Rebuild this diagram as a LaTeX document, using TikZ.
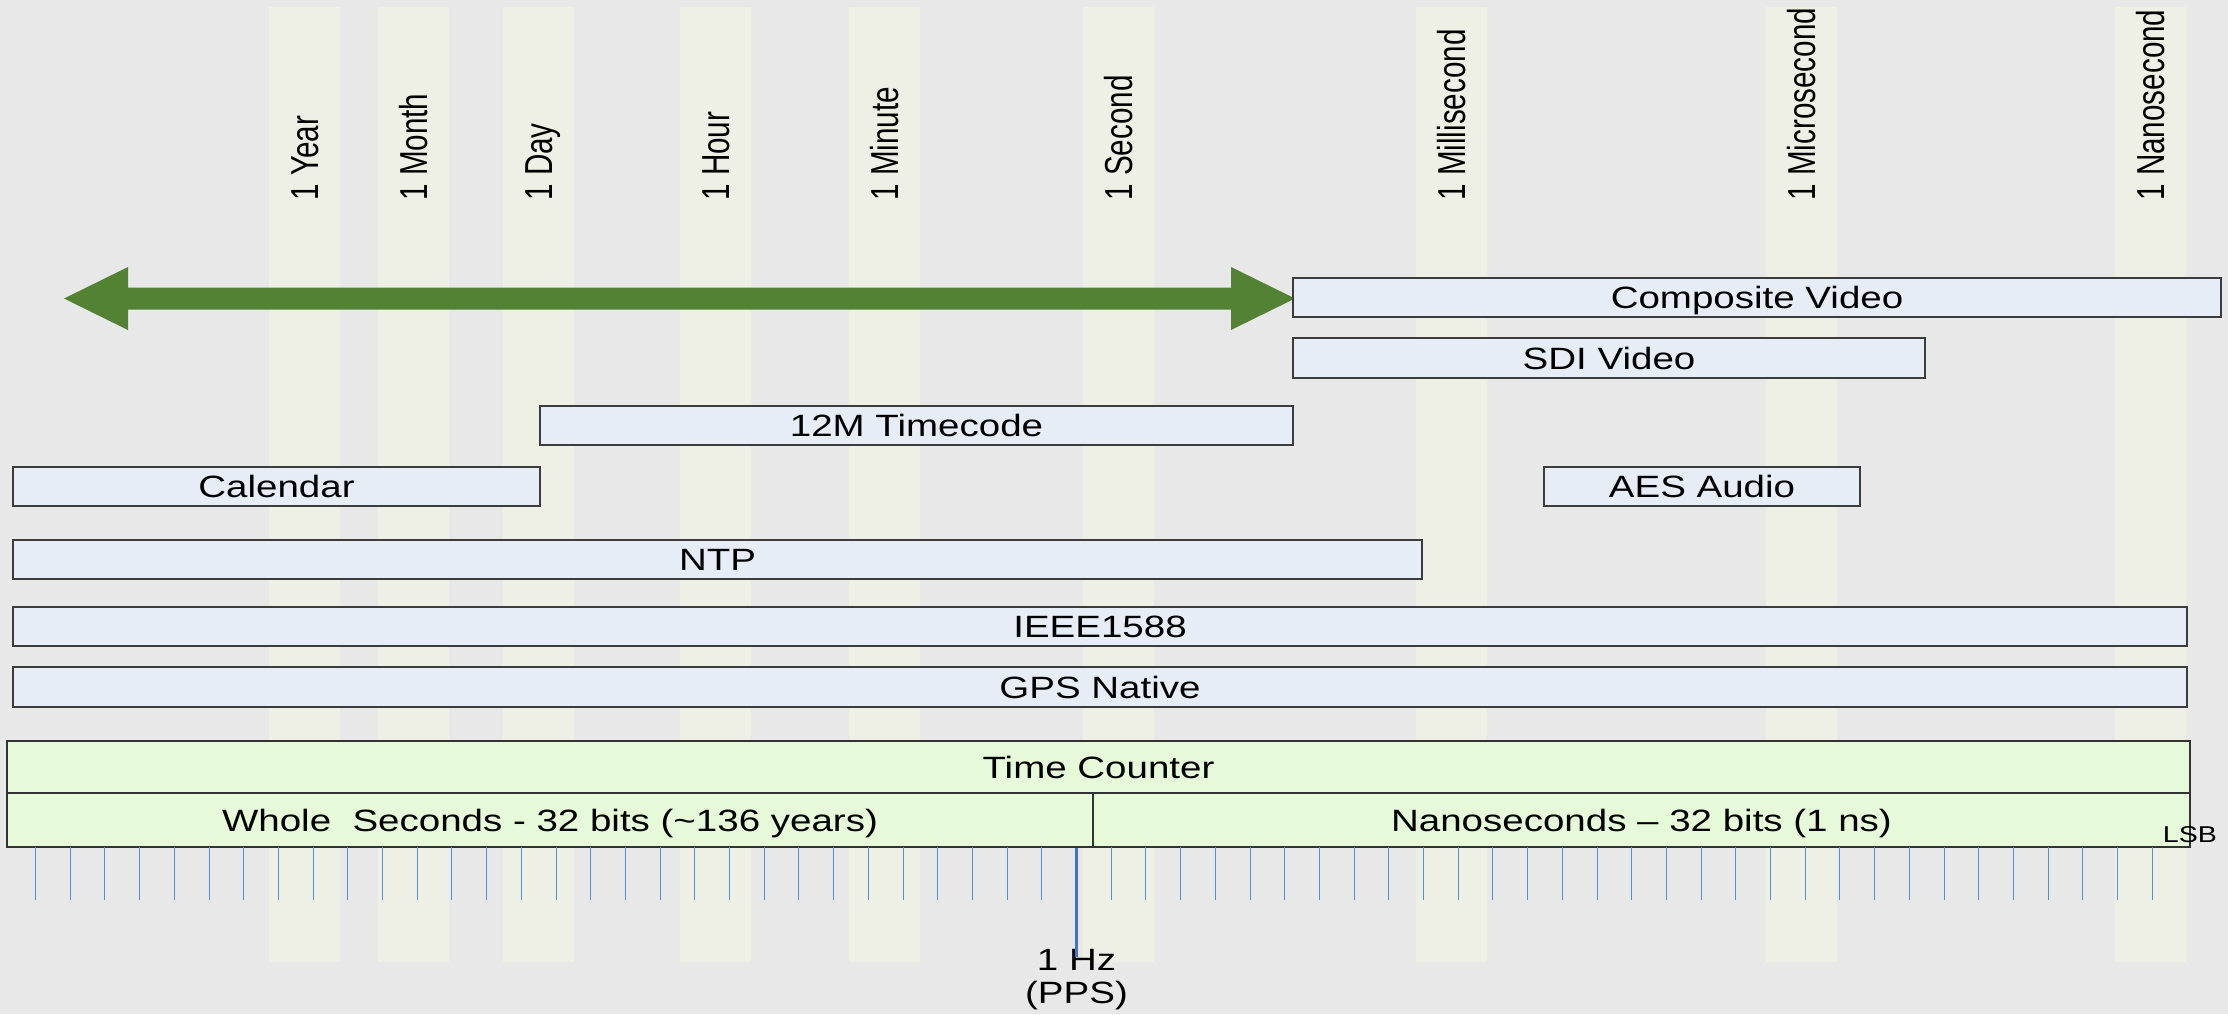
\documentclass[tikz,border=0pt]{standalone}
\usepackage{fontspec}
\setmainfont{Liberation Sans}
\usetikzlibrary{calc}

% text is set slightly compressed vertically
\newcommand{\sqz}[1]{\scalebox{1}[0.8]{#1}}
% rotated labels are compressed along their writing direction
\newcommand{\sqx}[1]{\scalebox{0.76}[1]{#1}}

\definecolor{bgcol}{HTML}{E8E8E8}
\definecolor{bandcol}{HTML}{EFF0E5}
\definecolor{boxfill}{HTML}{E7EDF7}
\definecolor{boxline}{HTML}{3C3C3C}
\definecolor{cntfill}{HTML}{E6FAD9}
\definecolor{arrowgreen}{HTML}{548235}
\definecolor{tickblue}{HTML}{5E8AD2}
\definecolor{ppsblue}{HTML}{4472C4}

\tikzset{
  % place a rectangle node spanning the corners (#1,#2) and (#3,#4)
  extent/.style n args={4}{minimum width={(#3-#1)*0.5pt},
    minimum height={(#4-#2)*0.5pt}, at={({(#1+#3)/2},{(#2+#4)/2})}},
  bandlabel/.style={rotate=90, anchor=base west, inner sep=0pt,
    font=\fontsize{19.5}{22}\selectfont},
  tbox/.style={rectangle, draw=boxline, fill=boxfill, line width=0.7pt,
    inner sep=0pt, text height=11pt, text depth=0pt,
    font=\fontsize{19.25}{22}\selectfont},
  cbox/.style={tbox, fill=cntfill, draw=black!80, line width=0.9pt},
  tickline/.style={draw=tickblue, line width=0.5pt},
  ppsline/.style={draw=ppsblue, line width=1.5pt},
  plain/.style={inner sep=0pt, anchor=base, font=\fontsize{19.25}{22}\selectfont},
}

\begin{document}
\begin{tikzpicture}[x=0.5pt, y=-0.5pt]
\useasboundingbox (0,0) rectangle (2228,1014);
\fill[bgcol] (0,0) rectangle (2228,1014);

% time-scale columns with their rotated labels
\foreach \c/\t in {304.5/Year, 413.5/Month, 538.5/Day, 715/Hour, 884.5/Minute,
                   1118.5/Second, 1451.5/Millisecond, 1801.5/Microsecond,
                   2150.5/Nanosecond} {
  \fill[bandcol] (\c-35.5,7) rectangle (\c+35.5,962);
  \node[bandlabel] (lbl-\t) at (\c+14,201) {\sqx{1 \t}};
}

% double-headed range arrow
\coordinate (aL) at (64,298.5);
\coordinate (aR) at (1295,298.5);
\fill[arrowgreen] (aL) -- ++(64,-31.5) -- ++(0,20.5) -- ($(aR)+(-64,-11)$)
  -- ++(0,-20.5) -- (aR) -- ++(-64,31.5) -- ++(0,-20.5) -- ($(aL)+(64,11)$)
  -- ++(0,20.5) -- cycle;

% protocol / format spans
\node[tbox, extent={1293}{278}{2221}{317}] (cv)   {\sqz{Composite Video}};
\node[tbox, extent={1293}{338}{1925}{378}] (sdi)  {\sqz{SDI Video}};
\node[tbox, extent={540}{406}{1293}{445}]  (tc12) {\sqz{12M Timecode}};
\node[tbox, extent={13}{467}{540}{506}]    (cal)  {\sqz{Calendar}};
\node[tbox, extent={1544}{467}{1860}{506}] (aes)  {\sqz{AES Audio}};
\node[tbox, extent={13}{540}{1422}{579}]   (ntp)  {\sqz{NTP}};
\node[tbox, extent={13}{607}{2187}{646}]   (ieee) {\sqz{IEEE1588}};
\node[tbox, extent={13}{667}{2187}{707}]   (gps)  {\sqz{GPS Native}};

% the 64-bit time counter
\node[cbox, extent={7}{741}{2190}{793}]    (cnt)  {\sqz{Time Counter}};
\node[cbox, extent={7}{793}{1093}{847}]    (sec)  {\sqz{Whole\ \ Seconds - 32 bits (\textasciitilde136 years)}};
\node[cbox, extent={1093}{793}{2190}{847}] (nsec) {\sqz{Nanoseconds – 32 bits (1 ns)}};

% bit ticks under the counter
\foreach \k in {0,...,61} {
  \ifnum\k=30\relax\else
    \draw[tickline] (35.5+34.7*\k,847) -- ++(0,53);
  \fi
}

% one pulse per second marker
\node[plain] (hz)  at (1076.5,970)  {\sqz{1 Hz}};
\node[plain] (pps) at (1076.5,1003) {\sqz{(PPS)}};
\draw[ppsline] (sec.south -| hz) -- (1076.5,957);

\node[inner sep=0pt, anchor=base, font=\fontsize{14.3}{16}\selectfont] (lsb)
  at (2190,842) {\sqz{LSB}};
\end{tikzpicture}
\end{document}
